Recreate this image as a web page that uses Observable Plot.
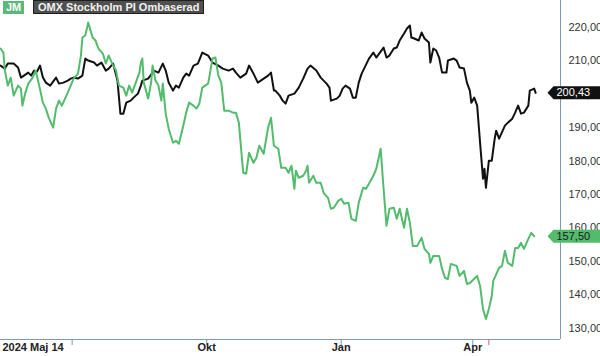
<!DOCTYPE html>
<html><head><meta charset="utf-8">
<script src="https://cdn.jsdelivr.net/npm/d3@7"></script>
<script src="https://cdn.jsdelivr.net/npm/@observablehq/plot@0.6"></script>
<style>
body{margin:0;background:#fff;font-family:"Liberation Sans",Arial,sans-serif;}
#wrap{position:relative;width:600px;height:356px;overflow:hidden;}
.leg{position:absolute;top:0;height:14px;line-height:14px;font-size:11px;font-weight:bold;color:#fff;box-sizing:border-box;white-space:nowrap;}
</style></head><body>
<div id="wrap">
<div id="chart"></div>
<div class="leg" style="left:3px;top:1px;height:13px;line-height:13px;background:#5cb878;padding:0 3px;">JM</div>
<div class="leg" style="left:33px;background:#505050;border:1px solid #1e1e1e;padding:0 4px;color:#f2f2f2;line-height:12px;">OMX Stockholm PI Ombaserad</div>
</div>
<script>
const seriesNames = ["JM", "OMX Stockholm PI Ombaserad"];

const omxDates = [
"2024-05-13","2024-05-16","2024-05-18","2024-05-22","2024-05-25","2024-05-27","2024-05-29","2024-06-01","2024-06-03","2024-06-05",
"2024-06-07","2024-06-09","2024-06-11","2024-06-13","2024-06-16","2024-06-20","2024-06-22","2024-06-25","2024-06-28","2024-06-30",
"2024-07-02","2024-07-05","2024-07-08","2024-07-10","2024-07-12","2024-07-16","2024-07-18","2024-07-21","2024-07-24","2024-07-26",
"2024-07-29","2024-08-01","2024-08-03","2024-08-05","2024-08-07","2024-08-10","2024-08-12","2024-08-15","2024-08-17","2024-08-18",
"2024-08-22","2024-08-26","2024-08-29","2024-09-01","2024-09-03","2024-09-05","2024-09-08","2024-09-10","2024-09-12","2024-09-15",
"2024-09-17","2024-09-19","2024-09-22","2024-09-25","2024-09-28","2024-10-02","2024-10-05","2024-10-09","2024-10-12","2024-10-16",
"2024-10-19","2024-10-21","2024-10-24","2024-10-28","2024-10-30","2024-11-02","2024-11-05","2024-11-09","2024-11-12","2024-11-14",
"2024-11-16","2024-11-17","2024-11-20","2024-11-22","2024-11-24","2024-11-26","2024-11-30","2024-12-03","2024-12-06","2024-12-09",
"2024-12-11","2024-12-15","2024-12-18","2024-12-22","2024-12-24","2024-12-25","2024-12-29","2024-12-31","2025-01-02","2025-01-04",
"2025-01-07","2025-01-09","2025-01-11","2025-01-13","2025-01-15","2025-01-17","2025-01-20","2025-01-23","2025-01-25","2025-01-27",
"2025-01-30","2025-02-01","2025-02-03","2025-02-06","2025-02-08","2025-02-10","2025-02-13","2025-02-15","2025-02-17","2025-02-18",
"2025-02-20","2025-02-23","2025-02-25","2025-02-27","2025-03-02","2025-03-03","2025-03-05","2025-03-07","2025-03-09","2025-03-11",
"2025-03-14","2025-03-15","2025-03-19","2025-03-21","2025-03-23","2025-03-26","2025-03-28","2025-03-30","2025-03-31","2025-04-02",
"2025-04-04","2025-04-06","2025-04-08","2025-04-09","2025-04-10","2025-04-12","2025-04-14","2025-04-16","2025-04-17","2025-04-19",
"2025-04-23","2025-04-25","2025-04-28","2025-04-30","2025-05-02","2025-05-04","2025-05-06","2025-05-09","2025-05-10","2025-05-13",
"2025-05-14"];
const omxValues = [
208.6,207.7,209.2,209.2,208.0,205.0,205.6,206.5,205.6,207.1,
206.8,208.6,205.0,203.5,202.6,205.0,203.2,203.5,204.1,204.7,
205.0,204.7,205.6,210.7,210.1,209.5,208.6,209.5,207.1,207.7,
209.2,204.1,194.2,194.2,197.5,198.1,199.0,200.2,202.6,204.1,
204.7,207.1,206.5,209.2,207.1,203.5,201.1,202.6,202.0,205.0,
206.2,205.6,208.6,209.2,212.5,211.6,209.5,208.6,207.7,207.1,
207.7,206.5,205.0,206.2,208.6,206.2,203.5,204.7,205.6,206.5,
201.1,201.1,199.6,198.1,197.2,199.6,200.2,202.0,204.7,207.7,
208.6,207.1,205.0,203.2,202.0,198.1,198.7,199.6,201.7,202.6,
201.7,199.0,199.0,203.5,206.2,208.0,210.7,212.5,211.0,212.2,
214.0,211.0,211.6,213.7,214.0,216.1,218.2,219.7,220.6,217.0,
216.7,216.1,218.5,216.7,215.5,209.5,213.7,213.1,211.0,206.5,
206.5,210.1,210.7,210.1,208.0,207.7,203.5,201.1,197.5,199.0,
196.6,185.5,174.7,177.7,172.0,180.1,180.1,186.7,189.1,186.7,
190.6,191.5,192.7,194.5,196.6,194.2,194.5,196.6,201.1,201.7,
200.43];

const jmDates = [
"2024-05-13","2024-05-15","2024-05-16","2024-05-18","2024-05-20","2024-05-22","2024-05-25","2024-05-27","2024-05-28","2024-05-30",
"2024-06-01","2024-06-04","2024-06-06","2024-06-08","2024-06-11","2024-06-13","2024-06-15","2024-06-18","2024-06-20","2024-06-22",
"2024-06-24","2024-06-28","2024-06-30","2024-07-02","2024-07-05","2024-07-07","2024-07-08","2024-07-10","2024-07-12","2024-07-15",
"2024-07-17","2024-07-19","2024-07-22","2024-07-24","2024-07-26","2024-07-29","2024-07-31","2024-08-02","2024-08-05","2024-08-07",
"2024-08-09","2024-08-11","2024-08-14","2024-08-16","2024-08-17","2024-08-18","2024-08-19","2024-08-22","2024-08-24","2024-08-25",
"2024-08-27","2024-08-29","2024-08-31","2024-09-01","2024-09-03","2024-09-05","2024-09-08","2024-09-10","2024-09-12","2024-09-15",
"2024-09-17","2024-09-19","2024-09-22","2024-09-24","2024-09-26","2024-09-28","2024-10-02","2024-10-03","2024-10-05","2024-10-07",
"2024-10-09","2024-10-11","2024-10-13","2024-10-16","2024-10-19","2024-10-21","2024-10-23","2024-10-26","2024-10-28","2024-10-30",
"2024-11-02","2024-11-04","2024-11-06","2024-11-09","2024-11-12","2024-11-14","2024-11-16","2024-11-19","2024-11-21","2024-11-24",
"2024-11-26","2024-11-28","2024-11-30","2024-12-01","2024-12-03","2024-12-06","2024-12-08","2024-12-09","2024-12-10","2024-12-13",
"2024-12-15","2024-12-18","2024-12-20","2024-12-23","2024-12-25","2024-12-27","2024-12-30","2025-01-01","2025-01-03","2025-01-06",
"2025-01-08","2025-01-11","2025-01-13","2025-01-16","2025-01-18","2025-01-20","2025-01-23","2025-01-25","2025-01-27","2025-01-28",
"2025-01-30","2025-02-01","2025-02-03","2025-02-06","2025-02-08","2025-02-10","2025-02-13","2025-02-15","2025-02-17","2025-02-19",
"2025-02-22","2025-02-25","2025-02-27","2025-03-02","2025-03-03","2025-03-05","2025-03-09","2025-03-11","2025-03-13","2025-03-15",
"2025-03-17","2025-03-21","2025-03-23","2025-03-26","2025-03-28","2025-03-30","2025-04-04","2025-04-06","2025-04-08","2025-04-10",
"2025-04-12","2025-04-14","2025-04-15","2025-04-19","2025-04-21","2025-04-23","2025-04-25","2025-04-28","2025-04-30","2025-05-02",
"2025-05-04","2025-05-06","2025-05-09","2025-05-11","2025-05-13"];
const jmValues = [
213.7,212.5,207.1,202.6,205.0,199.6,202.6,201.7,196.6,200.5,
203.2,205.0,207.1,203.5,197.5,195.7,193.0,190.0,195.7,198.1,
196.6,200.5,202.6,204.7,206.2,211.6,217.0,217.6,221.5,217.0,
216.1,213.7,212.2,209.2,211.6,208.6,207.1,202.6,202.0,199.6,
202.6,200.5,204.1,206.5,209.5,210.7,203.5,198.7,203.5,208.6,
204.1,202.6,198.1,203.2,194.2,189.7,185.5,186.1,185.2,190.6,
194.5,197.5,196.6,195.7,197.2,202.0,203.2,205.6,210.7,211.0,
205.6,203.5,195.1,195.1,194.5,194.5,191.5,176.5,176.2,182.5,
179.5,181.0,184.6,182.2,190.0,193.0,184.6,183.7,178.0,178.0,
176.5,178.6,171.7,177.1,175.0,175.6,177.1,178.6,173.5,175.6,
173.5,173.5,170.5,169.0,165.7,166.0,168.1,168.7,167.2,167.5,
162.7,162.1,167.5,172.0,171.7,173.2,175.6,177.7,181.6,183.7,
171.7,160.6,165.7,166.0,162.7,165.7,160.0,165.7,161.5,154.6,
154.6,157.0,153.7,152.2,149.5,151.6,151.6,147.7,145.0,144.7,
149.2,148.6,145.6,147.1,143.2,143.5,145.6,142.6,135.7,132.7,
135.7,139.6,144.1,148.0,148.6,153.1,149.5,148.6,154.0,154.0,
155.5,153.7,156.7,158.5,157.5];

const yTicks = [130,140,150,160,170,180,190,200,210,220];
const xTickDates = ["2024-07-01","2024-10-01","2025-01-01","2025-04-01"];
const xTickLabels = ["", "Okt", "Jan", "Apr"];
const startLabel = "2024 Maj 14";
const markerDate = "2025-04-12";
const xDomain = ["2024-05-13","2025-05-31"];
const yDomain = [126.56, 228.09];

const colors = {jm: "#52bb6c", omx: "#111111", axis: "#7d9ab0", marker: "#e05a5a", text: "#333333"};

const parse = s => new Date(s + "T00:00:00Z");
const omx = omxDates.map((d, i) => ({date: parse(d), value: omxValues[i]}));
const jm = jmDates.map((d, i) => ({date: parse(d), value: jmValues[i]}));
const lastOmx = omx[omx.length - 1];
const lastJm = jm[jm.length - 1];
const xEnd = parse(xDomain[1]);
const fmt = v => v.toFixed(2).replace(".", ",");
const tickLabelMap = new Map(xTickDates.map((d, i) => [+parse(d), xTickLabels[i]]));

const tagShape = {
  draw(ctx) {
    ctx.moveTo(-13, 0);
    ctx.lineTo(-7, -6.5);
    ctx.lineTo(44, -6.5);
    ctx.lineTo(44, 6.5);
    ctx.lineTo(-7, 6.5);
    ctx.closePath();
  }
};

const chart = Plot.plot({
  width: 600,
  height: 356,
  marginTop: 0,
  marginLeft: 0,
  marginRight: 40,
  marginBottom: 17,
  style: {fontFamily: "'Liberation Sans', Arial, sans-serif", fontSize: "11px", background: "#fff"},
  x: {type: "utc", domain: xDomain.map(parse)},
  y: {domain: yDomain},
  marks: [
    Plot.ruleY([yDomain[0]], {stroke: colors.axis, strokeWidth: 1}),
    Plot.ruleX([xEnd], {stroke: colors.axis, strokeWidth: 1}),
    Plot.axisY(yTicks, {anchor: "right", tickSize: 0, tickPadding: 8, tickFormat: fmt, fill: colors.text, fontSize: 11, label: null}),
    Plot.axisX(xTickDates.map(parse), {anchor: "bottom", tickSize: 6, tickPadding: -2, stroke: colors.axis, fill: "#222", fontWeight: "bold", fontSize: 11, tickFormat: d => tickLabelMap.get(+d), label: null}),
    Plot.axisX([parse(markerDate)], {anchor: "bottom", tickSize: 6, stroke: colors.marker, tickFormat: () => "", label: null}),
    Plot.text([startLabel], {frameAnchor: "bottom-left", text: d => d, dx: 2, dy: 11, textAnchor: "start", fontWeight: "bold", fontSize: 11, fill: "#222"}),
    Plot.line(omx, {x: "date", y: "value", stroke: colors.omx, strokeWidth: 2}),
    Plot.line(jm, {x: "date", y: "value", stroke: colors.jm, strokeWidth: 2}),
    Plot.dot([lastOmx], {x: () => xEnd, y: "value", symbol: tagShape, fill: colors.omx, stroke: "none"}),
    Plot.text([lastOmx], {x: () => xEnd, y: "value", text: d => fmt(d.value), dx: -4, textAnchor: "start", fill: "#fff", fontSize: 11}),
    Plot.dot([lastJm], {x: () => xEnd, y: "value", symbol: tagShape, fill: colors.jm, stroke: "none"}),
    Plot.text([lastJm], {x: () => xEnd, y: "value", text: d => fmt(d.value), dx: -4, textAnchor: "start", fill: "#1a1a1a", fontSize: 11})
  ]
});
document.getElementById("chart").appendChild(chart);
</script>
</body></html>
